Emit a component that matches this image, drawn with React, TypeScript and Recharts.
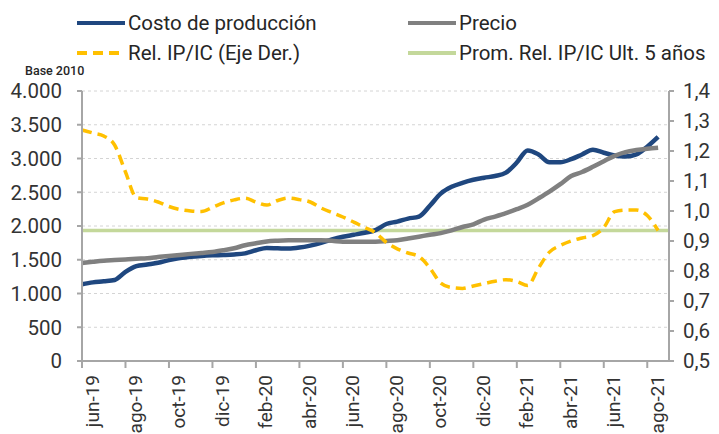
import {
  LineChart,
  Line,
  XAxis,
  YAxis,
  CartesianGrid,
  ReferenceLine,
  Legend,
} from "recharts";

// quincenas desde jun-19 (índice en meses: 0, 0.5, 1, ...)
const costoProduccion = [
  1137, 1165, 1180, 1200, 1320, 1405, 1430, 1455, 1495, 1525,
  1545, 1557, 1565, 1570, 1578, 1595, 1640, 1675, 1670, 1665,
  1680, 1710, 1750, 1800, 1840, 1870, 1900, 1940, 2030, 2065,
  2110, 2140, 2300, 2480, 2580, 2640, 2685, 2715, 2740, 2790,
  2940, 3120, 3060, 2945, 2945, 2990, 3060, 3130, 3085, 3045,
  3030, 3060, 3175, 3320,
];

const precio = [
  1453, 1470, 1485, 1495, 1505, 1515, 1522, 1540, 1557, 1572,
  1587, 1600, 1615, 1640, 1670, 1715, 1745, 1772, 1782, 1788,
  1790, 1790, 1790, 1780, 1768, 1765, 1765, 1768, 1778, 1790,
  1815, 1842, 1870, 1895, 1935, 1985, 2025, 2095, 2140, 2190,
  2250, 2315, 2410, 2510, 2620, 2740, 2800, 2877, 2960, 3040,
  3095, 3125, 3145, 3160,
];

const relIpIc = [
  1.27, 1.26, 1.25, 1.22, 1.13, 1.045, 1.04, 1.03, 1.015, 1.005,
  1.0, 0.998, 1.012, 1.027, 1.037, 1.043, 1.03, 1.02, 1.035, 1.043,
  1.038, 1.03, 1.01, 0.995, 0.98, 0.963, 0.945, 0.928, 0.895, 0.874,
  0.86, 0.848, 0.81, 0.76, 0.745, 0.742, 0.75, 0.758, 0.766, 0.771,
  0.765, 0.752, 0.81, 0.863, 0.885, 0.9, 0.91, 0.918, 0.945, 0.998,
  1.003, 1.003, 0.985, 0.935,
];

const promRelUlt5 = 0.935;

const etiquetasX = [
  "jun-19", "ago-19", "oct-19", "dic-19", "feb-20", "abr-20", "jun-20",
  "ago-20", "oct-20", "dic-20", "feb-21", "abr-21", "jun-21", "ago-21",
];
const ticksX = [0, 2, 4, 6, 8, 10, 12, 14, 16, 18, 20, 22, 24, 26];
const ticksIzq = [0, 500, 1000, 1500, 2000, 2500, 3000, 3500, 4000];
const ticksDer = [0.5, 0.6, 0.7, 0.8, 0.9, 1.0, 1.1, 1.2, 1.3, 1.4];

const data = costoProduccion.map((c, i) => ({
  mes: i / 2,
  costo: c,
  precio: precio[i],
  rel: relIpIc[i],
}));

const AZUL = "#1f477f";
const GRIS = "#808080";
const AMARILLO = "#ffc000";
const VERDE = "#c4d89b";
const FONT = "Roboto, sans-serif";

const fmtMiles = (v: number) =>
  v.toString().replace(/\B(?=(\d{3})+(?!\d))/g, ".");
const fmtDec = (v: number) => v.toFixed(1).replace(".", ",");

const XTick = ({ x, y, payload }: any) => (
  <g transform={`translate(${x},${y})`}>
    <text
      x={-5}
      y={16.5}
      textAnchor="end"
      transform="rotate(-90)"
      fontSize={19}
      fontFamily={FONT}
      fill="#333"
    >
      {etiquetasX[ticksX.indexOf(payload.value)]}
    </text>
  </g>
);

const items = [
  { label: "Costo de producción", color: AZUL, x: 77, y: 23, dash: undefined },
  { label: "Precio", color: GRIS, x: 408, y: 23, dash: undefined },
  { label: "Rel. IP/IC (Eje Der.)", color: AMARILLO, x: 77, y: 53, dash: "10 6" },
  { label: "Prom. Rel. IP/IC Ult. 5 años", color: VERDE, x: 408, y: 53, dash: undefined },
];

const Leyenda = () => (
  <svg width={719} height={80} style={{ display: "block" }}>
    {items.map((it) => (
      <g key={it.label}>
        <line
          x1={it.x}
          x2={it.x + 48}
          y1={it.y}
          y2={it.y}
          stroke={it.color}
          strokeWidth={4}
          strokeDasharray={it.dash}
        />
        <text
          x={it.x + 51}
          y={it.y}
          dominantBaseline="central"
          fontSize={20.5}
          fontFamily={FONT}
          fill="#262626"
        >
          {it.label}
        </text>
      </g>
    ))}
    <text
      x={25}
      y={70}
      dominantBaseline="central"
      fontSize={12.5}
      fontWeight={500}
      fontFamily={FONT}
      fill="#262626"
    >
      Base 2010
    </text>
  </svg>
);

export default function App() {
  return (
    <div style={{ position: "absolute", left: 0, top: 0, width: 719, height: 434, background: "#fff" }}>
      <LineChart
        width={719}
        height={434}
        data={data}
        margin={{ top: 91, right: 0, bottom: 0, left: 0 }}
      >
        <CartesianGrid
          yAxisId="izq"
          vertical={false}
          stroke="#d4d4d4"
          strokeDasharray="3 3"
        />
        <XAxis
          dataKey="mes"
          type="number"
          domain={[0, 27]}
          ticks={ticksX}
          interval={0}
          height={73}
          tick={<XTick />}
          tickSize={7}
          axisLine={{ stroke: "#a6a6a6", strokeWidth: 2 }}
          tickLine={{ stroke: "#a6a6a6", strokeWidth: 2 }}
        />
        <YAxis
          yAxisId="izq"
          orientation="left"
          width={82}
          domain={[0, 4000]}
          ticks={ticksIzq}
          tickFormatter={fmtMiles}
          tickSize={5}
          tickMargin={15}
          tick={{ fontSize: 20.5, fontFamily: FONT, fill: "#333" }}
          axisLine={{ stroke: "#a6a6a6", strokeWidth: 2 }}
          tickLine={{ stroke: "#a6a6a6", strokeWidth: 2 }}
        />
        <YAxis
          yAxisId="der"
          orientation="right"
          width={50}
          domain={[0.5, 1.4]}
          ticks={ticksDer}
          tickFormatter={fmtDec}
          tickSize={5}
          tickMargin={9}
          tick={{ fontSize: 20.5, fontFamily: FONT, fill: "#333", textAnchor: "start" }}
          axisLine={{ stroke: "#a6a6a6", strokeWidth: 2 }}
          tickLine={{ stroke: "#a6a6a6", strokeWidth: 2 }}
        />
        <ReferenceLine
          yAxisId="der"
          y={promRelUlt5}
          stroke={VERDE}
          strokeWidth={3.5}
        />
        <Line
          yAxisId="izq"
          type="monotone"
          dataKey="costo"
          stroke={AZUL}
          strokeWidth={4.5}
          dot={false}
          activeDot={false}
          isAnimationActive={false}
        />
        <Line
          yAxisId="izq"
          type="monotone"
          dataKey="precio"
          stroke={GRIS}
          strokeWidth={4.5}
          dot={false}
          activeDot={false}
          isAnimationActive={false}
        />
        <Line
          yAxisId="der"
          type="monotone"
          dataKey="rel"
          stroke={AMARILLO}
          strokeWidth={3.5}
          strokeDasharray="10 6"
          dot={false}
          activeDot={false}
          isAnimationActive={false}
        />
        <Legend
          layout="horizontal"
          verticalAlign="middle"
          align="center"
          wrapperStyle={{ top: 0, left: 0, width: 719 }}
          content={() => <Leyenda />}
        />
      </LineChart>
    </div>
  );
}
